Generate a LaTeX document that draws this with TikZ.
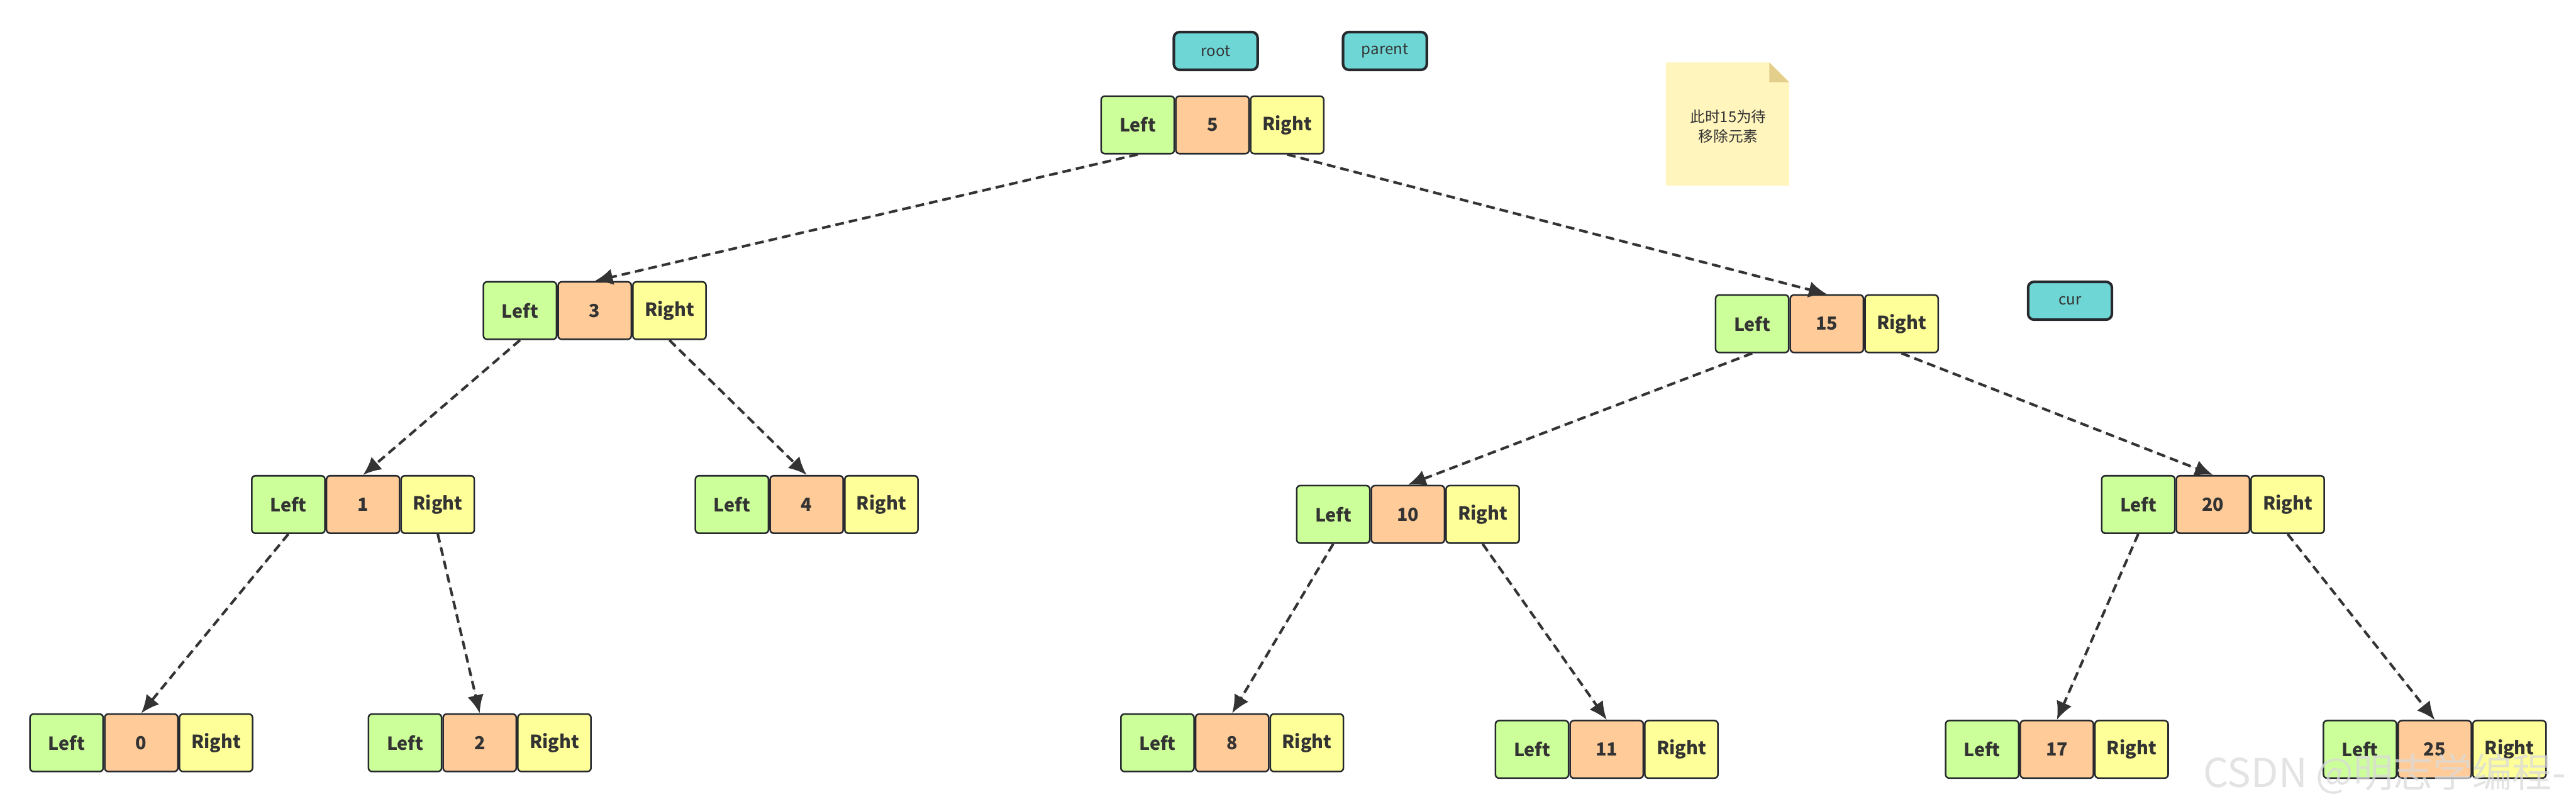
\documentclass[tikz,border=0pt]{standalone}
\usepackage{fontspec}
\setmainfont{Noto Sans CJK SC}
\usetikzlibrary{positioning,arrows.meta}
\definecolor{ink}{HTML}{333333}
\definecolor{frame}{HTML}{262A2E}
\definecolor{leftc}{HTML}{CCFF99}
\definecolor{valc}{HTML}{FFCC99}
\definecolor{rightc}{HTML}{FFFF99}
\definecolor{tagc}{HTML}{6FD6D6}
\definecolor{notec}{HTML}{FFF5BD}
\definecolor{foldc}{HTML}{E3CE8B}
\definecolor{markc}{HTML}{DADADA}
\tikzset{
  cell/.style={rectangle,draw=frame,line width=1.1pt,rounded corners=2.5pt,minimum width=1.78cm,minimum height=1.4cm,inner sep=0pt,text=ink,font=\fontsize{12.5}{14}\selectfont\bfseries},
  lcell/.style={cell,fill=leftc},
  vcell/.style={cell,fill=valc},
  rcell/.style={cell,fill=rightc},
  tag/.style={rectangle,draw=frame,line width=1.8pt,rounded corners=4pt,fill=tagc,minimum width=2.04cm,minimum height=0.92cm,inner sep=0pt,text=ink,font=\fontsize{10.5}{12}\selectfont},
  edge/.style={-{Latex[length=4.4mm,width=4mm]},line width=1.8pt,draw=ink,fill=ink,dash pattern=on 6pt off 3.5pt}
}
\begin{document}
\begin{tikzpicture}[x=0.04cm,y=-0.04cm]
\useasboundingbox (0,0) rectangle (1568,492);
% tree nodes: Left | value | Right
\foreach \n/\x/\y in {5/738/76, 3/362/189, 15/1112/197, 1/221/307, 4/491/307, 10/857/313, 20/1347/307,
                      0/86/452, 2/292/452, 8/750/452, 11/978/456, 17/1252/456, 25/1482/456}{
  \node[vcell] (v\n) at (\x,\y) {\n};
  \node[lcell,left=0pt of v\n] (l\n) {Left};
  \node[rcell,right=0pt of v\n] (r\n) {Right};
}
% pointers
\node[tag] (root) at (740,31) {root};
\node[tag] (parent) at (843,31) {parent};
\node[tag] (cur) at (1260,183) {cur};
% note
\fill[notec] (1014,38) -- (1077,38) -- (1089,50) -- (1089,113) -- (1014,113) -- cycle;
\fill[foldc] (1077,38) -- (1089,50) -- (1077,50) -- cycle;
\node[align=center,text=ink,font=\fontsize{10.3}{13.7}\selectfont] (note) at (1052,77) {此时15为待\\移除元素};
% links
\foreach \a/\b in {l5/v3, r5/v15, l3/v1, r3/v4, l15/v10, r15/v20, l1/v0, r1/v2, l10/v8, r10/v11, l20/v17, r20/v25}
  \draw[edge] (\a.south) -- (\b.north);
\node[anchor=west,text=markc,text opacity=0.75,font=\fontsize{27.5}{28}\selectfont] (mark) at (1338,471) {CSDN @明志学编程-};
\end{tikzpicture}
\end{document}
